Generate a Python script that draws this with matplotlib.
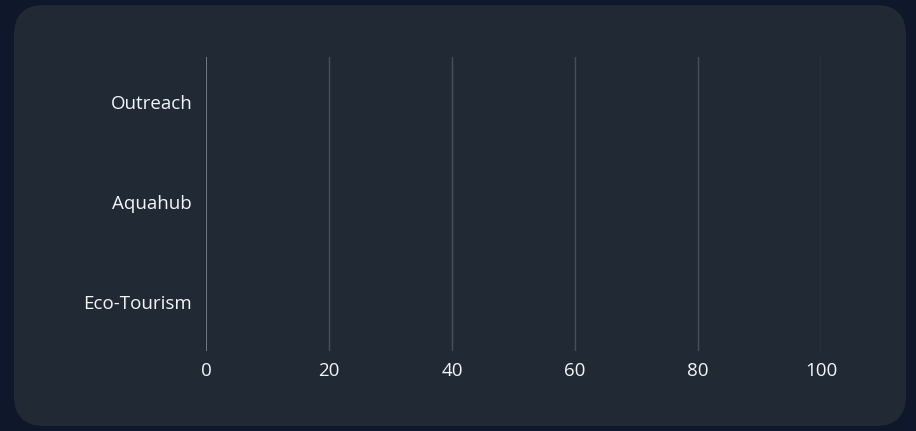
import matplotlib
matplotlib.use("Agg")
import matplotlib.pyplot as plt
from matplotlib.patches import FancyBboxPatch

# data
categories = ["Eco-Tourism", "Aquahub", "Outreach"]
values = [0, 0, 0]
x_ticks = [0, 20, 40, 60, 80, 100]

plt.rcParams["font.family"] = ["Open Sans", "DejaVu Sans"]

W, H = 916, 431
fig = plt.figure(figsize=(W / 100 + 0.001, H / 100 + 0.001), dpi=100)
fig.patch.set_facecolor("#0f172a")

# rounded card behind the chart
card = FancyBboxPatch((14, 5), 892, 421, boxstyle="round,pad=0,rounding_size=30",
                      transform=None, facecolor="#212a34", edgecolor="none", zorder=-5)
fig.patches.append(card)

ax = fig.add_axes([206 / W, (H - 351) / H, (821 - 206) / W, (351 - 57) / H])
ax.set_facecolor("none")
ax.set_zorder(5)

ax.barh(range(len(categories)), values, color="#38bdf8", height=0.6)

ax.set_xlim(0, 100)
ax.set_ylim(-0.49, 2.45)
ax.set_xticks(x_ticks)
ax.set_yticks(range(len(categories)))
ax.set_yticklabels(categories)

for t in x_ticks:
    c = "#6b7280" if t == 0 else "#46505c"
    lw = 1.5 if t == 0 else 1.0
    ax.axvline(t, color=c, lw=lw, zorder=1)

for s in ax.spines.values():
    s.set_visible(False)
ax.tick_params(axis="both", length=0, colors="#f1f5f9", labelsize=13.5)
ax.tick_params(axis="x", pad=8)
ax.tick_params(axis="y", pad=10)

fig.savefig("out.png", dpi=100, facecolor=fig.get_facecolor())
